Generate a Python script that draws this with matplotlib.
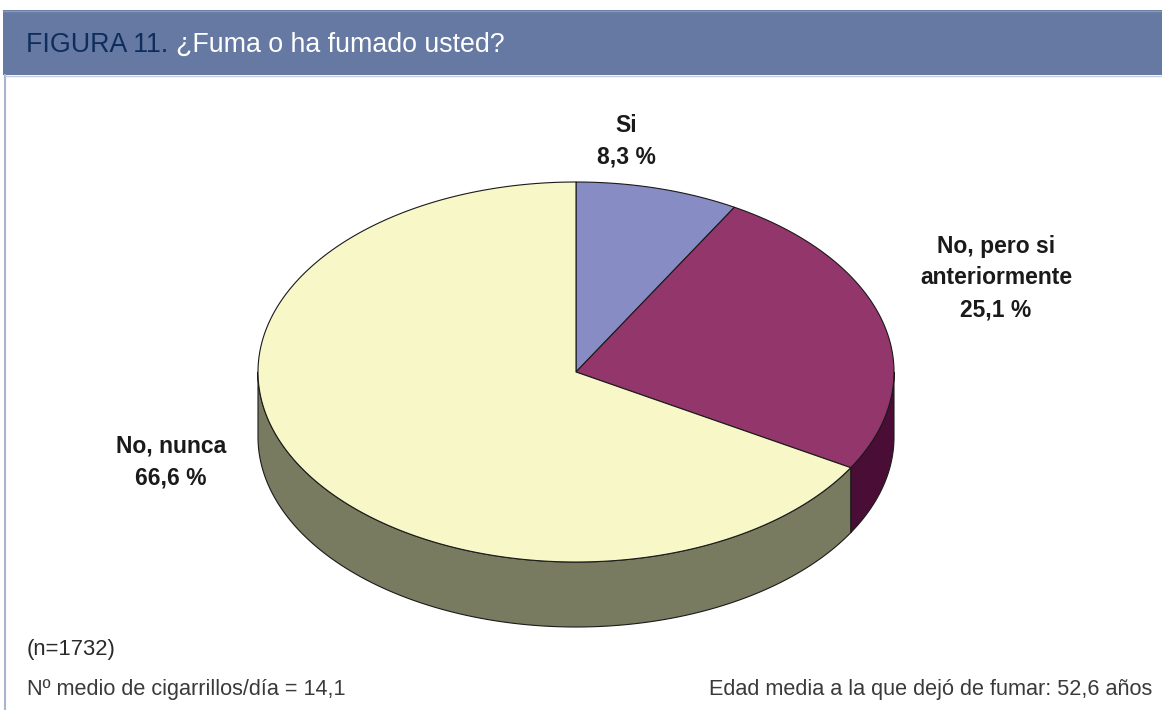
import numpy as np
import matplotlib
matplotlib.use("Agg")
import matplotlib.pyplot as plt
from matplotlib.patches import Polygon, Rectangle

plt.rcParams['font.family'] = ['Liberation Sans', 'DejaVu Sans']

# Respuestas y porcentajes
categorias = ['Si', 'No, pero si\nanteriormente', 'No, nunca']
porcentajes = [8.3, 25.1, 66.6]
colores_sup = ['#888cc4', '#93366b', '#f7f7c8']
colores_lat = ['#5a5e92', '#4a0d35', '#787b60']

titulo_num = 'FIGURA 11.'
titulo = '¿Fuma o ha fumado usted?'
nota_n = '(n=1732)'
nota_cig = 'Nº medio de cigarrillos/día = 14,1'
nota_edad = 'Edad media a la que dejó de fumar: 52,6 años'

W, H = 1162, 710
fig = plt.figure(figsize=(W / 100, H / 100), dpi=100)
ax = fig.add_axes([0, 0, 1, 1])
ax.set_xlim(0, W)
ax.set_ylim(H, 0)
ax.axis('off')

# marco y cabecera
ax.plot([5, 5], [75, H], color='#a8b4d0', lw=1.5)
ax.add_patch(Rectangle((3, 10), W - 3, 65, facecolor='#6579a3', edgecolor='none'))
ax.plot([3, W], [10.5, 10.5], color='#8a99bb', lw=1)
ax.plot([5, W], [75.5, 75.5], color='#c3cde2', lw=1)
t1 = ax.text(26, 45, titulo_num + ' ', color='#0f2d5c', fontsize=19.3,
             va='center', ha='left')
fig.canvas.draw()
bb = t1.get_window_extent()
ax.text(bb.x1, 45, titulo, color='white', fontsize=19.3, va='center', ha='left')

# tarta 3D
cx, cy, rx, ry, prof = 576, 372, 318, 190, 65


def punto(theta_deg, dy=0.0):
    t = np.radians(theta_deg)
    return cx + rx * np.sin(t), cy - ry * np.cos(t) + dy


limites = np.concatenate([[0], np.cumsum(porcentajes) / 100 * 360])

# paredes laterales (solo la mitad frontal)
for i in range(len(porcentajes)):
    a0, a1 = max(limites[i], 90), min(limites[i + 1], 270)
    if a1 <= a0:
        continue
    ts = np.linspace(a0, a1, 200)
    arriba = [punto(t) for t in ts]
    abajo = [punto(t, prof) for t in ts[::-1]]
    ax.add_patch(Polygon(arriba + abajo, closed=True, facecolor=colores_lat[i],
                         edgecolor='#1a1a1a', lw=0.8, joinstyle='round'))

# caras superiores
for i in range(len(porcentajes)):
    ts = np.linspace(limites[i], limites[i + 1], 300)
    pts = [(cx, cy)] + [punto(t) for t in ts]
    ax.add_patch(Polygon(pts, closed=True, facecolor=colores_sup[i],
                         edgecolor='#1a1a1a', lw=0.8, joinstyle='round'))

# etiquetas
pos_etiquetas = [(626, 141), (996, 278), (171, 462)]
for cat, val, (x, y) in zip(categorias, porcentajes, pos_etiquetas):
    txt = cat + '\n' + f'{val:.1f} %'.replace('.', ',')
    ax.text(x, y, txt, ha='center', va='center', fontsize=16.5, fontweight='bold',
            color='#1a1a1a', linespacing=1.5)

# notas al pie
ax.text(27, 650, nota_n, ha='left', va='center', fontsize=15.8, color='#2a2a2a')
ax.text(27, 689, nota_cig, ha='left', va='center', fontsize=15.6, color='#3a3a3a')
ax.text(1152, 689, nota_edad, ha='right', va='center', fontsize=15.6, color='#3a3a3a')

fig.savefig('out.png', dpi=100)
